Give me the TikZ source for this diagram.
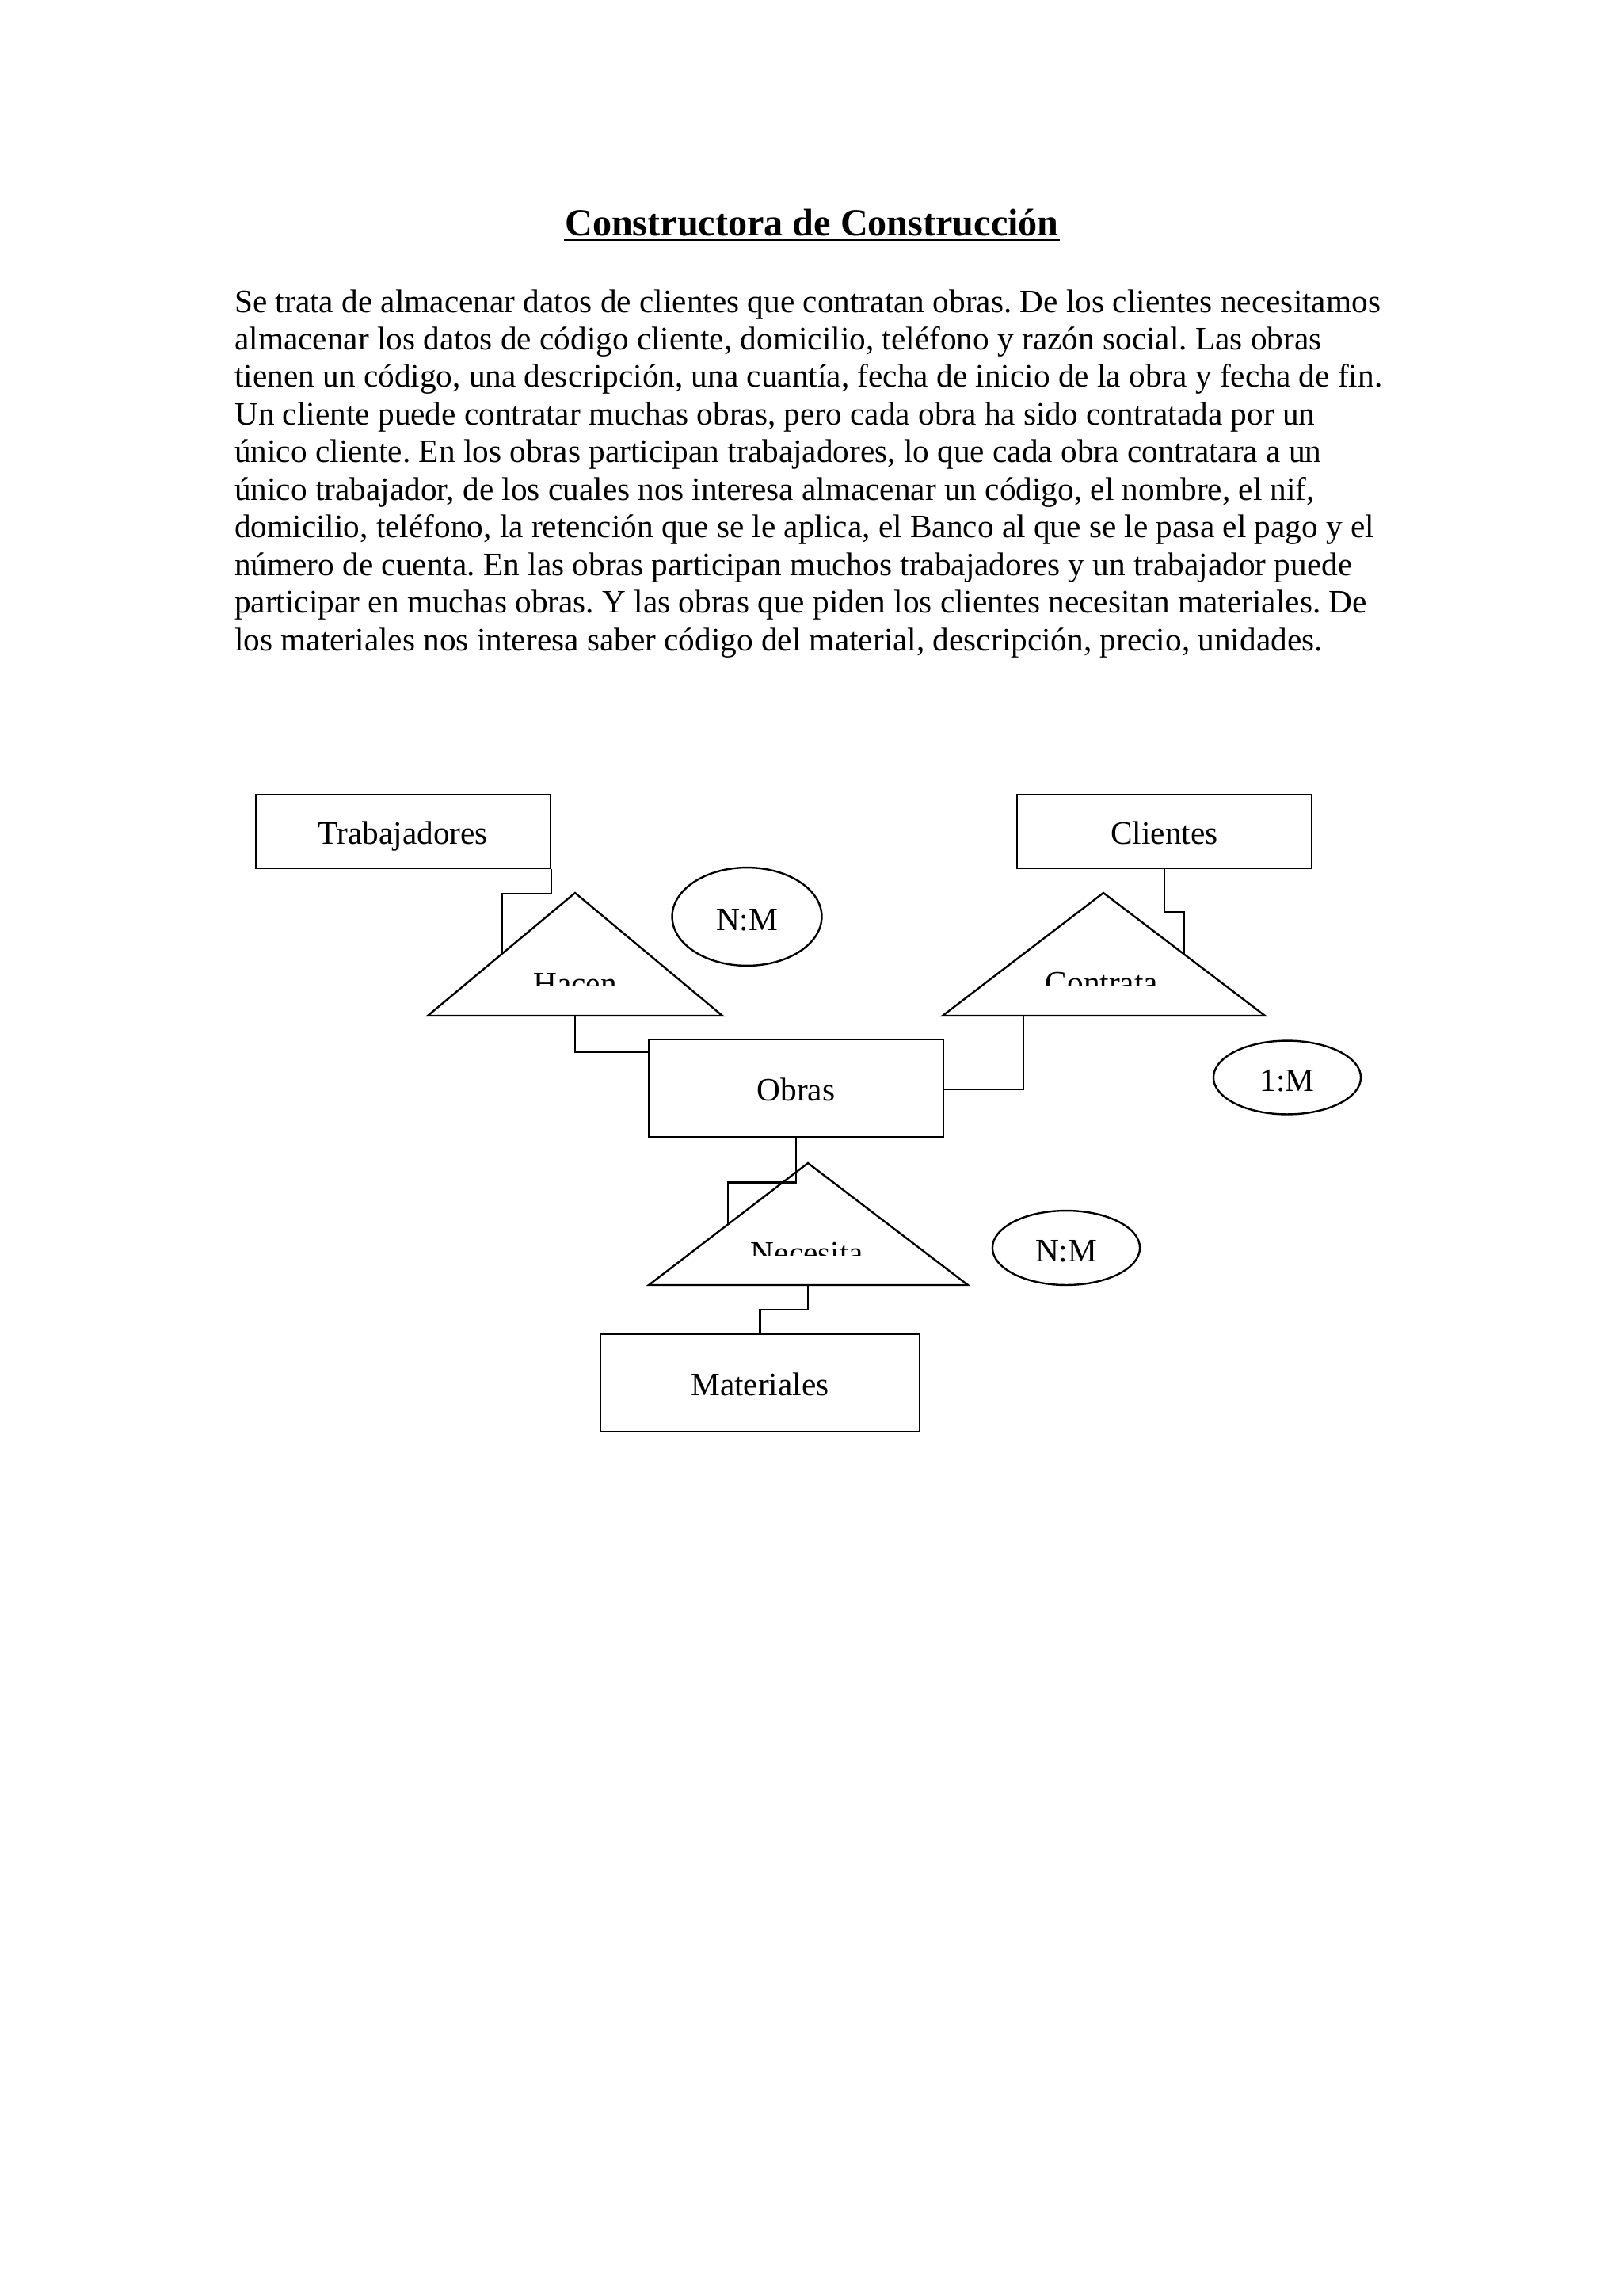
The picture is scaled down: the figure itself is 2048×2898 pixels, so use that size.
\documentclass[tikz,border=0pt]{standalone}
\usepackage{fontspec}
\setmainfont{Liberation Serif}
\usetikzlibrary{shapes.geometric}
\frenchspacing
\begin{document}
\begin{tikzpicture}[x=0.29066pt,y=-0.29066pt,
  line width=0.7pt,
  bodyline/.style={anchor=base west,inner sep=0pt,font=\fontsize{12}{13.8}\selectfont},
  entity/.style={draw,rectangle,inner sep=0pt,font=\fontsize{12}{13.8}\selectfont,text height=9.2pt,text depth=0pt},
  card/.style={draw,ellipse,inner sep=0pt,font=\fontsize{12}{13.8}\selectfont,text height=10pt,text depth=0pt},
  rel/.style={draw,fill=white,line join=miter},
  rellabel/.style={anchor=base,inner sep=0pt,font=\fontsize{12}{13.8}\selectfont},
  conn/.style={draw,line join=miter}
]
\fill[white] (0,0) rectangle (2048,2898);
\useasboundingbox (0,0) rectangle (2048,2898);

% title
\node[anchor=base,inner sep=0pt,font=\fontsize{14}{16}\selectfont\bfseries] (title) at (1025,297) {Constructora de Construcción};
\draw[line width=0.75pt] ([yshift=-1.8pt]title.base west) -- ([yshift=-1.8pt]title.base east);

% body text
\node[bodyline] (l1) at (295,394.0) {Se trata de almacenar datos de clientes que contratan obras. De los clientes necesitamos};
\node[bodyline] (l2) at (295,441.4) {almacenar los datos de código cliente, domicilio, teléfono y razón social. Las obras};
\node[bodyline] (l3) at (295,488.9) {tienen un código, una descripción, una cuantía, fecha de inicio de la obra y fecha de fin.};
\node[bodyline] (l4) at (295,536.3) {Un cliente puede contratar muchas obras, pero cada obra ha sido contratada por un};
\node[bodyline] (l5) at (295,583.7) {único cliente. En los obras participan trabajadores, lo que cada obra contratara a un};
\node[bodyline] (l6) at (295,631.2) {único trabajador, de los cuales nos interesa almacenar un código, el nombre, el nif,};
\node[bodyline] (l7) at (295,678.6) {domicilio, teléfono, la retención que se le aplica, el Banco al que se le pasa el pago y el};
\node[bodyline] (l8) at (295,726.0) {número de cuenta. En las obras participan muchos trabajadores y un trabajador puede};
\node[bodyline] (l9) at (295,773.4) {participar en muchas obras. Y las obras que piden los clientes necesitan materiales. De};
\node[bodyline] (l10) at (295,821.0) {los materiales nos interesa saber código del material, descripción, precio, unidades.};

% entities
\node[entity,minimum width=108.1pt,minimum height=27.0pt] (trab) at (509,1049.5) {Trabajadores};
\node[entity,minimum width=108.1pt,minimum height=27.0pt] (cli) at (1470,1049.5) {Clientes};
\node[entity,minimum width=108.1pt,minimum height=35.8pt] (obras) at (1005,1373.5) {Obras};
\node[entity,minimum width=117.1pt,minimum height=35.8pt] (mat) at (959.5,1745.5) {Materiales};

% relationship triangles
\coordinate (hacenA) at (726,1127);
\coordinate (hacenL) at (540,1282);
\coordinate (hacenR) at (912,1282);
\coordinate (hacenB) at (726,1282);
\coordinate (hacenIn) at (634,1204);
\draw[rel] (hacenA) -- (hacenR) -- (hacenL) -- cycle;

\coordinate (contA) at (1393,1127);
\coordinate (contL) at (1190,1282);
\coordinate (contR) at (1597,1282);
\coordinate (contB) at (1292,1282);
\coordinate (contIn) at (1495,1204);
\draw[rel] (contA) -- (contR) -- (contL) -- cycle;

\coordinate (necA) at (1020,1468);
\coordinate (necL) at (819,1622);
\coordinate (necR) at (1222,1622);
\coordinate (necB) at (1020,1622);
\coordinate (necIn) at (919,1545);
\draw[rel] (necA) -- (necR) -- (necL) -- cycle;

% clipped relationship labels
\begin{scope}
\clip (600,1200) rectangle (850,1244);
\node[rellabel] (hacenT) at (726,1255) {Hacen};
\end{scope}
\begin{scope}
\clip (1250,1200) rectangle (1530,1243);
\node[rellabel] (contT) at (1391,1254) {Contrata};
\end{scope}
\begin{scope}
\clip (880,1540) rectangle (1160,1584);
\node[rellabel] (necT) at (1019,1595) {Necesita};
\end{scope}

% connectors
\draw[conn] (trab.south east) -- ++(0,31) -| (hacenIn);
\draw[conn] (hacenB) |- ([yshift=13.2pt]obras.west);
\draw[conn] ([yshift=-0.4pt]obras.east) -| (contB);
\draw[conn] (cli.south) -- ++(0,54) -| (contIn);
\draw[conn] (obras.south) -- ++(0,56) -| (necIn);
\draw[conn] (necB) -- ++(0,31) -| (mat.north);

% cardinalities
\node[card,minimum width=54.9pt,minimum height=36.0pt] (nm1) at (943,1157) {N:M};
\node[card,minimum width=54.1pt,minimum height=27.0pt] (om) at (1625,1360) {1:M};
\node[card,minimum width=54.1pt,minimum height=27.3pt] (nm2) at (1346,1575) {N:M};
\end{tikzpicture}
\end{document}
